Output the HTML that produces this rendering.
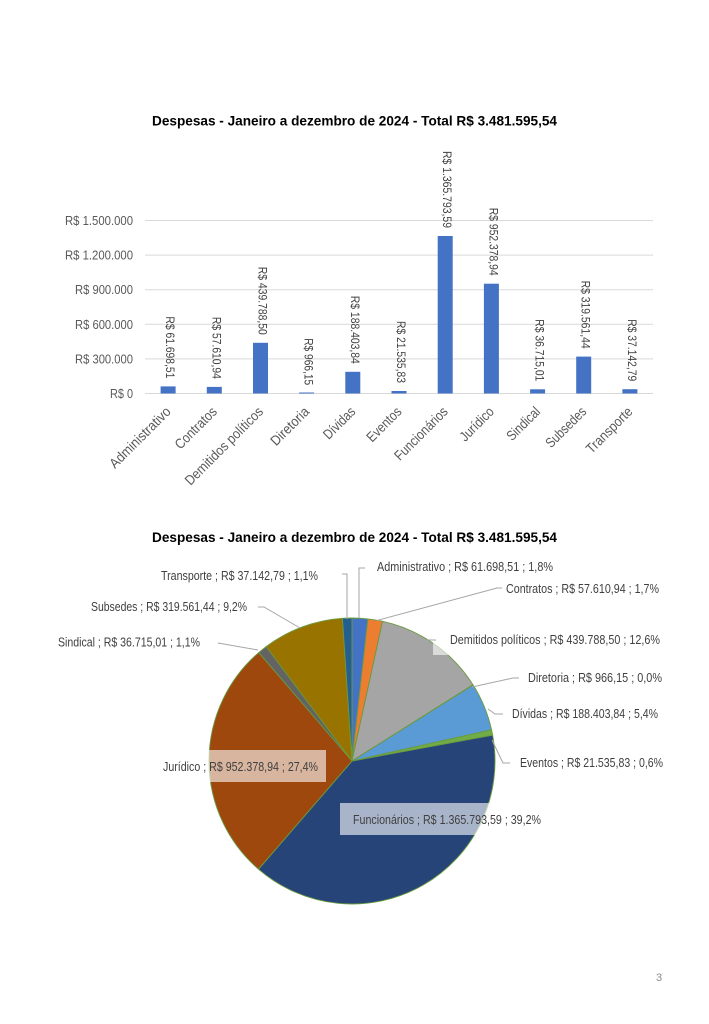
<!DOCTYPE html>
<html>
<head>
<meta charset="utf-8">
<style>
  html,body{margin:0;padding:0;background:#fff;}
  svg{display:block;}
  text{font-family:"Liberation Sans", sans-serif;}
</style>
</head>
<body>
<svg width="709" height="1024" viewBox="0 0 709 1024" xmlns="http://www.w3.org/2000/svg">
  <rect x="0" y="0" width="709" height="1024" fill="#ffffff"/>

  <!-- ========== BAR CHART ========== -->
  <text x="152" y="125.5" font-size="14" font-weight="bold" fill="#000" textLength="405" lengthAdjust="spacingAndGlyphs">Despesas - Janeiro a dezembro de 2024 - Total R$ 3.481.595,54</text>

  <!-- gridlines -->
  <g stroke="#d9d9d9" stroke-width="1">
    <line x1="145" y1="220.5" x2="653" y2="220.5"/>
    <line x1="145" y1="255.1" x2="653" y2="255.1"/>
    <line x1="145" y1="289.7" x2="653" y2="289.7"/>
    <line x1="145" y1="324.3" x2="653" y2="324.3"/>
    <line x1="145" y1="358.9" x2="653" y2="358.9"/>
    <line x1="145" y1="393.5" x2="653" y2="393.5"/>
  </g>

  <!-- y axis labels -->
  <g font-size="13" fill="#595959" text-anchor="end">
    <text x="133" y="225" textLength="68" lengthAdjust="spacingAndGlyphs">R$ 1.500.000</text>
    <text x="133" y="259.6" textLength="68" lengthAdjust="spacingAndGlyphs">R$ 1.200.000</text>
    <text x="133" y="294.2" textLength="58" lengthAdjust="spacingAndGlyphs">R$ 900.000</text>
    <text x="133" y="328.8" textLength="58" lengthAdjust="spacingAndGlyphs">R$ 600.000</text>
    <text x="133" y="363.4" textLength="58" lengthAdjust="spacingAndGlyphs">R$ 300.000</text>
    <text x="133" y="398" textLength="23" lengthAdjust="spacingAndGlyphs">R$ 0</text>
  </g>

  <!-- bars -->
  <g fill="#4472c4">
    <rect x="160.6" y="386.4" width="15" height="7.1"/>
    <rect x="206.8" y="386.9" width="15" height="6.6"/>
    <rect x="253.0" y="342.8" width="15" height="50.7"/>
    <rect x="299.1" y="392.5" width="15" height="1"/>
    <rect x="345.3" y="371.8" width="15" height="21.7"/>
    <rect x="391.5" y="391.0" width="15" height="2.5"/>
    <rect x="437.7" y="236.0" width="15" height="157.5"/>
    <rect x="483.9" y="283.7" width="15" height="109.8"/>
    <rect x="530.1" y="389.3" width="15" height="4.2"/>
    <rect x="576.2" y="356.6" width="15" height="36.9"/>
    <rect x="622.4" y="389.2" width="15" height="4.3"/>
  </g>

  <!-- bar value labels (rotated 90) -->
  <g font-size="12" fill="#404040" text-anchor="end">
    <text transform="translate(166.1,378.4) rotate(90)" textLength="62" lengthAdjust="spacingAndGlyphs">R$ 61.698,51</text>
    <text transform="translate(212.3,378.9) rotate(90)" textLength="62" lengthAdjust="spacingAndGlyphs">R$ 57.610,94</text>
    <text transform="translate(258.5,334.8) rotate(90)" textLength="68" lengthAdjust="spacingAndGlyphs">R$ 439.788,50</text>
    <text transform="translate(304.6,385.2) rotate(90)" textLength="47" lengthAdjust="spacingAndGlyphs">R$ 966,15</text>
    <text transform="translate(350.8,363.8) rotate(90)" textLength="68" lengthAdjust="spacingAndGlyphs">R$ 188.403,84</text>
    <text transform="translate(397.0,383.0) rotate(90)" textLength="62" lengthAdjust="spacingAndGlyphs">R$ 21.535,83</text>
    <text transform="translate(443.2,228.0) rotate(90)" textLength="77" lengthAdjust="spacingAndGlyphs">R$ 1.365.793,59</text>
    <text transform="translate(489.4,275.7) rotate(90)" textLength="68" lengthAdjust="spacingAndGlyphs">R$ 952.378,94</text>
    <text transform="translate(535.6,381.3) rotate(90)" textLength="62" lengthAdjust="spacingAndGlyphs">R$ 36.715,01</text>
    <text transform="translate(581.7,348.6) rotate(90)" textLength="68" lengthAdjust="spacingAndGlyphs">R$ 319.561,44</text>
    <text transform="translate(627.9,381.2) rotate(90)" textLength="62" lengthAdjust="spacingAndGlyphs">R$ 37.142,79</text>
  </g>

  <!-- x axis category labels (rotated -45) -->
  <g font-size="14" fill="#595959" text-anchor="end">
    <text transform="translate(171.6,412.5) rotate(-45)" textLength="80" lengthAdjust="spacingAndGlyphs">Administrativo</text>
    <text transform="translate(217.8,412.5) rotate(-45)" textLength="53" lengthAdjust="spacingAndGlyphs">Contratos</text>
    <text transform="translate(264.0,412.5) rotate(-45)" textLength="104" lengthAdjust="spacingAndGlyphs">Demitidos políticos</text>
    <text transform="translate(310.1,412.5) rotate(-45)" textLength="48" lengthAdjust="spacingAndGlyphs">Diretoria</text>
    <text transform="translate(356.3,412.5) rotate(-45)" textLength="39" lengthAdjust="spacingAndGlyphs">Dívidas</text>
    <text transform="translate(402.5,412.5) rotate(-45)" textLength="43" lengthAdjust="spacingAndGlyphs">Eventos</text>
    <text transform="translate(448.7,412.5) rotate(-45)" textLength="69" lengthAdjust="spacingAndGlyphs">Funcionários</text>
    <text transform="translate(494.9,412.5) rotate(-45)" textLength="42" lengthAdjust="spacingAndGlyphs">Jurídico</text>
    <text transform="translate(541.1,412.5) rotate(-45)" textLength="41" lengthAdjust="spacingAndGlyphs">Sindical</text>
    <text transform="translate(587.2,412.5) rotate(-45)" textLength="51" lengthAdjust="spacingAndGlyphs">Subsedes</text>
    <text transform="translate(633.4,412.5) rotate(-45)" textLength="59" lengthAdjust="spacingAndGlyphs">Transporte</text>
  </g>

  <!-- ========== PIE CHART ========== -->
  <text x="152" y="542" font-size="14" font-weight="bold" fill="#000" textLength="405" lengthAdjust="spacingAndGlyphs">Despesas - Janeiro a dezembro de 2024 - Total R$ 3.481.595,54</text>

  <g stroke="#6a9a3f" stroke-width="0.9" stroke-linejoin="round">
    <path d="M352,761 L352,618 A143,143 0 0 1 367.89,618.89 Z" fill="#4472c4"/>
    <path d="M352,761 L367.89,618.89 A143,143 0 0 1 382.55,621.30 Z" fill="#ed7d31"/>
    <path d="M352,761 L382.55,621.30 A143,143 0 0 1 473.02,684.81 Z" fill="#a5a5a5"/>
    <path d="M352,761 L473.02,684.81 A143,143 0 0 1 473.15,685.03 Z" fill="#ffc000"/>
    <path d="M352,761 L473.15,685.03 A143,143 0 0 1 491.55,729.79 Z" fill="#5b9bd5"/>
    <path d="M352,761 L491.55,729.79 A143,143 0 0 1 492.66,735.23 Z" fill="#70ad47"/>
    <path d="M352,761 L492.66,735.23 A143,143 0 0 1 258.48,869.18 Z" fill="#264478"/>
    <path d="M352,761 L258.48,869.18 A143,143 0 0 1 258.79,652.55 Z" fill="#9e480e"/>
    <path d="M352,761 L258.79,652.55 A143,143 0 0 1 266.17,646.62 Z" fill="#636363"/>
    <path d="M352,761 L266.17,646.62 A143,143 0 0 1 342.43,618.32 Z" fill="#997300"/>
    <path d="M352,761 L342.43,618.32 A143,143 0 0 1 352,618 Z" fill="#255e91"/>
  </g>

  <!-- label background boxes -->
  <g fill="#ffffff" fill-opacity="0.6">
    <rect x="156" y="750" width="170" height="32"/>
    <rect x="340" y="803" width="210" height="32"/>
    <rect x="433" y="638" width="232" height="17"/>
  </g>

  <!-- leader lines -->
  <g stroke="#a6a6a6" stroke-width="1" fill="none">
    <polyline points="359,618 359,568 365,568"/>
    <polyline points="347,619 347,574 342,574"/>
    <polyline points="377,620.5 497,588 502,588"/>
    <polyline points="427,640 436,640"/>
    <polyline points="472,687 513,678 519,678"/>
    <polyline points="488,709 495,714 503,714"/>
    <polyline points="492,740 503,763 510,763"/>
    <polyline points="258,607 264,607 300,628"/>
    <polyline points="218,643 258,650"/>
  </g>

  <!-- pie labels -->
  <g font-size="12.5" fill="#404040">
    <text x="377" y="571" textLength="176" lengthAdjust="spacingAndGlyphs">Administrativo ; R$ 61.698,51 ; 1,8%</text>
    <text x="506" y="593" textLength="153" lengthAdjust="spacingAndGlyphs">Contratos ; R$ 57.610,94 ; 1,7%</text>
    <text x="450" y="644" textLength="210" lengthAdjust="spacingAndGlyphs">Demitidos políticos ; R$ 439.788,50 ; 12,6%</text>
    <text x="528" y="682" textLength="134" lengthAdjust="spacingAndGlyphs">Diretoria ; R$ 966,15 ; 0,0%</text>
    <text x="512" y="718" textLength="146" lengthAdjust="spacingAndGlyphs">Dívidas ; R$ 188.403,84 ; 5,4%</text>
    <text x="520" y="767" textLength="143" lengthAdjust="spacingAndGlyphs">Eventos ; R$ 21.535,83 ; 0,6%</text>
    <text x="353" y="824" textLength="188" lengthAdjust="spacingAndGlyphs">Funcionários ; R$ 1.365.793,59 ; 39,2%</text>
    <text x="163" y="771" textLength="155" lengthAdjust="spacingAndGlyphs">Jurídico ; R$ 952.378,94 ; 27,4%</text>
    <text x="58" y="646.5" textLength="142" lengthAdjust="spacingAndGlyphs">Sindical ; R$ 36.715,01 ; 1,1%</text>
    <text x="91" y="611" textLength="156" lengthAdjust="spacingAndGlyphs">Subsedes ; R$ 319.561,44 ; 9,2%</text>
    <text x="161" y="580" textLength="157" lengthAdjust="spacingAndGlyphs">Transporte ; R$ 37.142,79 ; 1,1%</text>
  </g>

  <!-- page number -->
  <text x="659" y="981" font-size="11" fill="#8c8c8c" text-anchor="middle">3</text>
</svg>
</body>
</html>
